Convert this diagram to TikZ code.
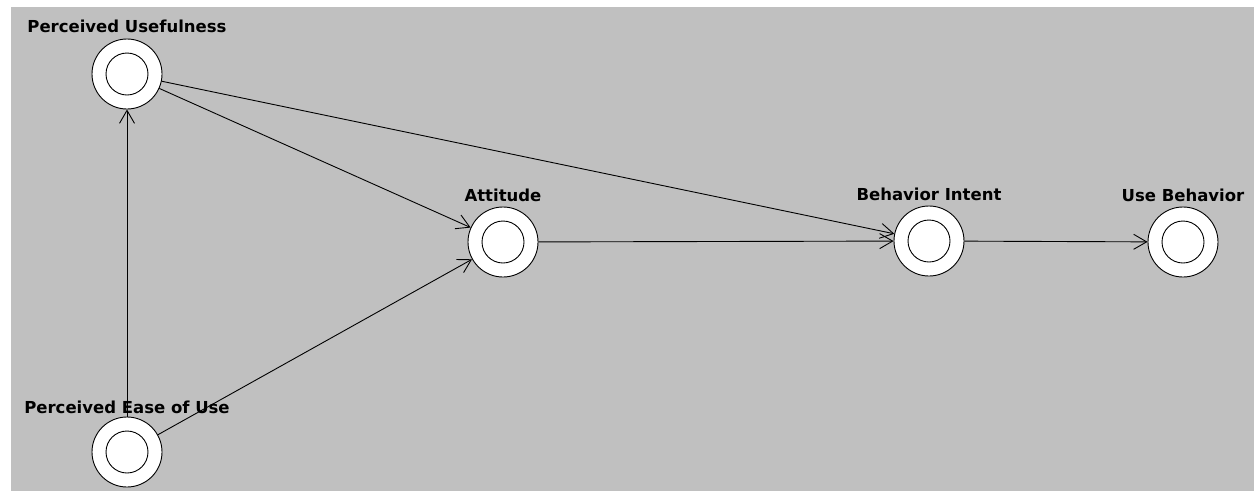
\documentclass[tikz,border=0pt]{standalone}
\usepackage{fontspec}
\setsansfont{DejaVu Sans}
\usetikzlibrary{arrows.meta}
\definecolor{panelgray}{RGB}{192,192,192}
\tikzset{
    construct/.style={circle,draw,fill=white,line width=0.9pt,inner sep=0pt,minimum size=70pt,
        path picture={\draw[line width=0.9pt] (path picture bounding box.center) circle (21pt);}},
    caption/.style={font=\sffamily\bfseries\fontsize{16.5}{19}\selectfont,inner sep=0pt,text depth=0pt,label distance=5pt},
    link/.style={line width=0.9pt,-{Straight Barb[length=13pt,width=15pt]}}
}
\begin{document}
\begin{tikzpicture}[x=1pt,y=-1pt]
            \useasboundingbox (0,0) rectangle (1254,491);
            \fill[white] (0,0) rectangle (1254,491);
            \fill[panelgray] (11,7) rectangle (1254,491);
            \node[construct,label={[caption,label distance=6pt]above:Perceived Usefulness}] (pu) at (127,74) {};
            \node[construct,label={[caption,label distance=3pt]above:Perceived Ease of Use}] (peou) at (127,452) {};
            \node[construct,label={[caption]above:Attitude}] (att) at (503,242) {};
            \node[construct,label={[caption]above:Behavior Intent}] (bi) at (929,241) {};
            \node[construct,label={[caption]above:Use Behavior}] (ub) at (1183,242) {};
            \draw[link] (peou) -- (pu);
            \draw[link] (pu) -- (att);
            \draw[link] (peou) -- (att);
            \draw[link] (pu) -- (bi);
            \draw[link] (att) -- (bi);
            \draw[link] (bi) -- (ub);
\end{tikzpicture}
\end{document}
